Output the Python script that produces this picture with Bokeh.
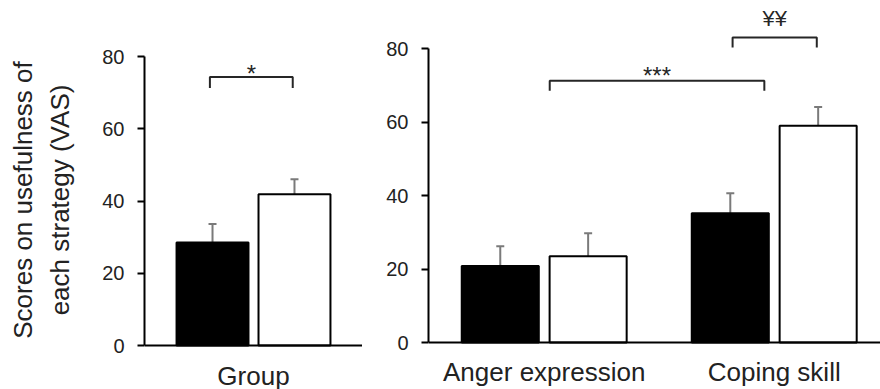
from bokeh.plotting import figure
from bokeh.layouts import row
from bokeh.models import ColumnDataSource, Whisker, TeeHead, FixedTicker, Range1d
from bokeh.embed import file_html
from bokeh.resources import INLINE
from bokeh.core.properties import value

# ---------------- data ----------------
left_categories = ["Group"]
left_black = [28.5]
left_black_err = [5.15]
left_white = [41.9]
left_white_err = [4.15]

right_categories = ["Anger expression", "Coping skill"]
right_black = [20.85, 35.15]
right_black_err = [5.35, 5.45]
right_white = [23.45, 58.95]
right_white_err = [6.25, 5.15]

y_ticks = [0, 20, 40, 60, 80]
y_title = "Scores on usefulness of\neach strategy (VAS)"

# significance brackets (x in category units, y in score units)
left_brackets_x0 = [-0.20]
left_brackets_x1 = [0.18]
left_brackets_y = [74.3]
left_brackets_label = ["*"]

right_brackets_x0 = [0.024, 0.819]
right_brackets_x1 = [0.957, 1.185]
right_brackets_y = [71.2, 83.0]
right_brackets_label = ["***", "\u00a5\u00a5"]

FONT = "Liberation Sans"
TXT = "#222222"
ERR = "#7a7a7a"


def style_axes(p, x_labels, label_standoff):
    p.xgrid.visible = False
    p.ygrid.visible = False
    p.outline_line_color = None
    p.background_fill_color = "white"
    p.border_fill_color = "white"

    ya = p.yaxis[0]
    ya.ticker = FixedTicker(ticks=y_ticks)
    ya.bounds = (0, 80)
    ya.axis_line_width = 2
    ya.axis_line_color = "black"
    ya.major_tick_line_width = 2
    ya.major_tick_line_color = "black"
    ya.major_tick_out = 7
    ya.major_tick_in = 0
    ya.minor_tick_line_color = None
    ya.major_label_standoff = 13
    ya.major_label_text_font = FONT
    ya.major_label_text_font_size = "20px"
    ya.major_label_text_color = TXT

    xa = p.xaxis[0]
    xa.fixed_location = 0
    xa.ticker = FixedTicker(ticks=list(range(len(x_labels))))
    xa.major_label_overrides = {i: lab for i, lab in enumerate(x_labels)}
    xa.axis_line_width = 2
    xa.axis_line_color = "black"
    xa.major_tick_line_color = None
    xa.minor_tick_line_color = None
    xa.major_label_standoff = label_standoff
    xa.major_label_text_font = FONT
    xa.major_label_text_font_size = "26px"
    xa.major_label_text_color = TXT


def draw_bars(p, black, black_err, white, white_err, dodge, width):
    n = len(black)
    xb = [i - dodge for i in range(n)]
    xw = [i + dodge for i in range(n)]
    p.vbar(x=xb, top=black, width=width, bottom=0,
           fill_color="black", line_color="black", line_width=2)
    p.vbar(x=xw, top=white, width=width, bottom=0,
           fill_color="white", line_color="black", line_width=2)
    for xs, vals, errs in ((xb, black, black_err), (xw, white, white_err)):
        src = ColumnDataSource(dict(
            x=xs,
            upper=[v + e for v, e in zip(vals, errs)],
            lower=[v - e for v, e in zip(vals, errs)],
        ))
        w = Whisker(source=src, base="x", upper="upper", lower="lower",
                    line_color=ERR, line_width=2,
                    upper_head=TeeHead(size=8, line_color=ERR, line_width=2),
                    lower_head=TeeHead(size=8, line_color=ERR, line_width=2))
        p.add_layout(w)


def draw_brackets(p, x0s, x1s, ys, labels, drop, offsets, sizes):
    xs = [[a, a, b, b] for a, b in zip(x0s, x1s)]
    yy = [[y - drop, y, y, y - drop] for y in ys]
    p.multi_line(xs=xs, ys=yy, line_color="#262626", line_width=2)
    for a, b, y, lab, off, sz in zip(x0s, x1s, ys, labels, offsets, sizes):
        p.text(x=[(a + b) / 2], y=[y], text=[lab], text_align="center",
               text_baseline="alphabetic", y_offset=off,
               text_font=value(FONT), text_font_size=sz, text_color="#262626")


TOP = 10  # common top border; frames run to the canvas bottom

# ---------------- left panel ----------------
# frame x 144..362; score 0 at y=345, 3.6125 px per unit
pl = figure(width=362, height=389, output_backend="svg", toolbar_location=None,
            x_range=Range1d(-0.5, 0.5),
            y_range=Range1d(-(389 - 345) / 3.6125, (345 - TOP) / 3.6125),
            min_border_left=144, min_border_right=0, min_border_top=TOP,
            min_border_bottom=0)
style_axes(pl, left_categories, 9)
ya = pl.yaxis[0]
ya.axis_label = y_title
ya.axis_label_text_font = FONT
ya.axis_label_text_font_size = "26px"
ya.axis_label_text_font_style = "normal"
ya.axis_label_text_color = TXT
ya.axis_label_text_line_height = 1.25
ya.axis_label_standoff = 24
draw_bars(pl, left_black, left_black_err, left_white, left_white_err, 0.188, 0.33)
draw_brackets(pl, left_brackets_x0, left_brackets_x1, left_brackets_y,
              left_brackets_label, 3.0, [-4], ["24px"])

# ---------------- right panel ----------------
# frame x 428..880; score 0 at y=342, 3.675 px per unit
pr = figure(width=518, height=389, output_backend="svg", toolbar_location=None,
            x_range=Range1d(-0.503, 1.462),
            y_range=Range1d(-(389 - 342) / 3.675, (342 - TOP) / 3.675),
            min_border_left=66, min_border_right=0, min_border_top=TOP,
            min_border_bottom=0)
style_axes(pr, right_categories, 8)
draw_bars(pr, right_black, right_black_err, right_white, right_white_err, 0.191, 0.335)
draw_brackets(pr, right_brackets_x0, right_brackets_x1, right_brackets_y,
              right_brackets_label, 2.7, [-5, -19], ["24px", "22px"])

layout = row(pl, pr)
open("out.html", "w").write(file_html(layout, INLINE))
